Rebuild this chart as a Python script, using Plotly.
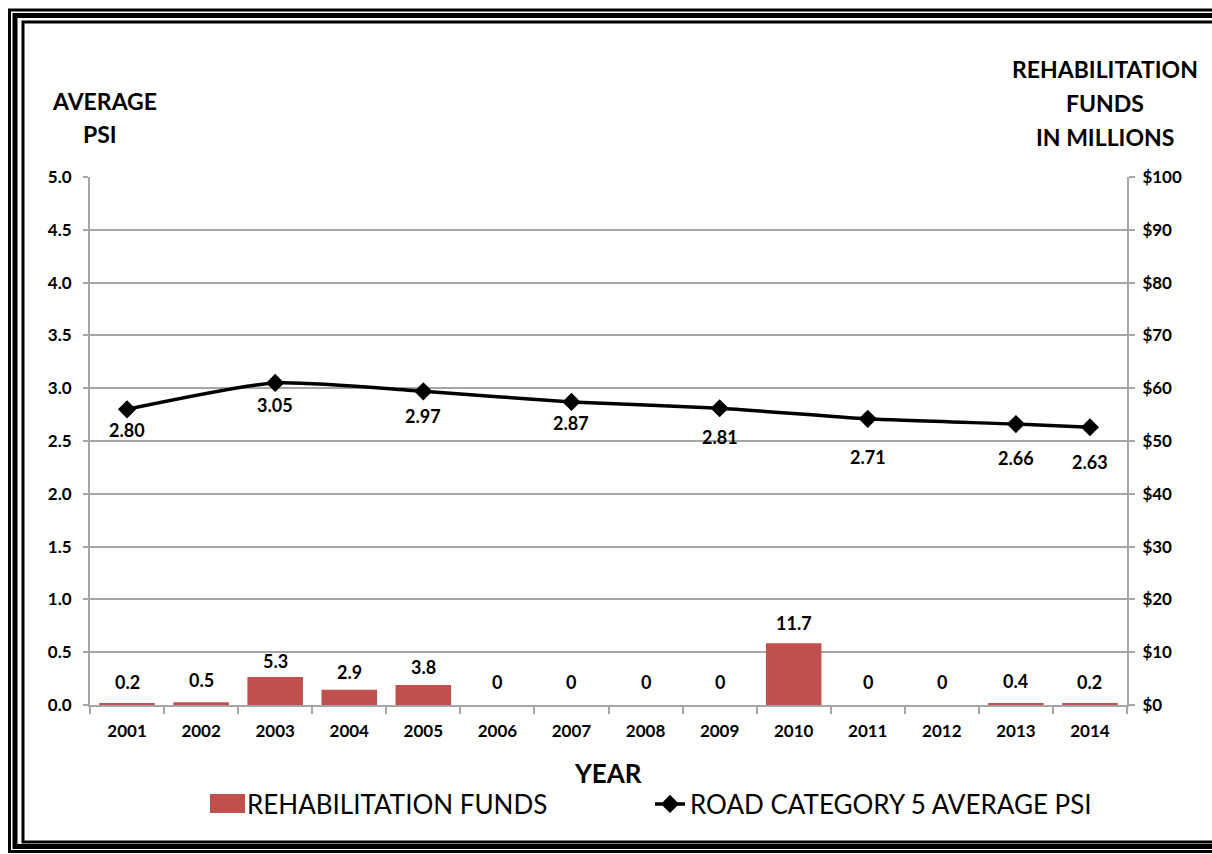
import plotly.graph_objects as go

# ---------------- data ----------------
years = ["2001", "2002", "2003", "2004", "2005", "2006", "2007",
         "2008", "2009", "2010", "2011", "2012", "2013", "2014"]
rehab_funds = [0.2, 0.5, 5.3, 2.9, 3.8, 0, 0, 0, 0, 11.7, 0, 0, 0.4, 0.2]
psi_years = ["2001", "2003", "2005", "2007", "2009", "2011", "2013", "2014"]
psi_values = [2.80, 3.05, 2.97, 2.87, 2.81, 2.71, 2.66, 2.63]

bar_label_shift = [11, 11, 5, 7, 7, 12, 12, 12, 12, 9, 12, 12, 11, 11]
psi_label_shift = [21, 22, 25, 21, 29, 38, 34, 35]

W, H = 1212, 854
L, R, T, B = 90, 1127, 177, 705
FONT = "Lato"
RED = "#C0504D"
GRAY = "#A6A6A6"


def px(x):
    return (x - L) / (R - L)


def py(y):
    return (B - y) / (B - T)


fig = go.Figure()

fig.add_trace(go.Bar(
    x=years, y=rehab_funds, yaxis="y2", name="REHABILITATION FUNDS",
    marker=dict(color=RED, line=dict(width=0)),
))

fig.add_trace(go.Scatter(
    x=psi_years, y=psi_values, yaxis="y", name="ROAD CATEGORY 5 AVERAGE PSI",
    mode="lines+markers", connectgaps=True,
    line=dict(color="black", width=3.5, shape="spline", smoothing=0.6),
    marker=dict(symbol="diamond", size=14, color="black"),
))

label_font = dict(family=FONT, size=18, color="black", weight="bold")
annotations = []
for yr, v, s in zip(years, rehab_funds, bar_label_shift):
    annotations.append(dict(
        x=years.index(yr), y=v, xref="x", yref="y2", yanchor="bottom", yshift=s - 2,
        text=f"{v:g}", showarrow=False, font=label_font))
for yr, v, s in zip(psi_years, psi_values, psi_label_shift):
    annotations.append(dict(
        x=years.index(yr), y=v, xref="x", yref="y", yanchor="middle", yshift=-s,
        text=f"{v:.2f}", showarrow=False, font=label_font))

title_font = dict(family=FONT, size=23, color="black", weight="bold")
for txt, xc, yc in [("AVERAGE", 104, 101), ("PSI", 100, 134),
                    ("REHABILITATION", 1105, 69), ("FUNDS", 1105, 103),
                    ("IN MILLIONS", 1105, 137)]:
    annotations.append(dict(x=px(xc), y=py(yc), xref="paper", yref="paper",
                            xanchor="center", yanchor="middle", text=txt,
                            showarrow=False, font=title_font))
annotations.append(dict(x=px(608), y=py(773), xref="paper", yref="paper",
                        xanchor="center", yanchor="middle", text="YEAR",
                        showarrow=False,
                        font=dict(family=FONT, size=26, color="black", weight="bold")))

# decorative frame (triple border)
shapes = []
for x0, y0, y1, w in [(9.5, 10, 851.5, 3), (15, 15.5, 846.5, 5), (23, 22, 842, 3)]:
    shapes.append(dict(type="rect", xref="paper", yref="paper",
                       x0=px(x0), x1=px(W + 20), y0=py(y0), y1=py(y1),
                       line=dict(color="black", width=w), fillcolor="rgba(0,0,0,0)",
                       layer="above"))
# enlarge the bar legend key to a wide swatch
shapes.append(dict(type="rect", xref="paper", yref="paper",
                   x0=px(210), x1=px(245), y0=py(794), y1=py(813),
                   line=dict(width=0), fillcolor=RED, layer="above"))

tick_font = dict(family=FONT, size=17, color="black", weight="bold")

fig.update_layout(
    width=W, height=H,
    margin=dict(l=L, r=W - R, t=T, b=H - B, autoexpand=False),
    paper_bgcolor="white", plot_bgcolor="white",
    bargap=0.25,
    showlegend=True,
    legend=dict(orientation="h", x=px(207), y=py(804), xanchor="left", yanchor="middle",
                font=dict(family=FONT, size=26, color="black"),
                entrywidth=398, entrywidthmode="pixels", bgcolor="rgba(0,0,0,0)"),
    xaxis=dict(type="category", categoryorder="array", categoryarray=years,
               range=[-0.5, len(years) - 0.5], autorange=False,
               showgrid=False, showline=True, linecolor=GRAY, linewidth=2,
               ticks="outside", tickson="boundaries", ticklen=7, tickcolor=GRAY, tickwidth=2,
               tickfont=tick_font, tickangle=0, zeroline=False, ticklabelstandoff=10),
    yaxis=dict(range=[0, 5], dtick=0.5, tickformat=".1f", showgrid=True, gridcolor=GRAY,
               gridwidth=2, showline=True, linecolor=GRAY, linewidth=2, ticks="outside",
               ticklen=5, tickcolor=GRAY, tickwidth=2, tickfont=tick_font, zeroline=False,
               ticklabelstandoff=8),
    yaxis2=dict(range=[0, 100], dtick=10, tickprefix="$", overlaying="y", side="right",
                showgrid=False, showline=True, linecolor=GRAY, linewidth=2, ticks="outside",
                ticklen=6, tickcolor=GRAY, tickwidth=2, tickfont=tick_font, zeroline=False,
                ticklabelstandoff=4),
    annotations=annotations,
    shapes=shapes,
)

fig.write_html("out.html", config={"displayModeBar": False},
               post_script="document.body.style.margin='0';document.body.style.overflow='hidden';")
